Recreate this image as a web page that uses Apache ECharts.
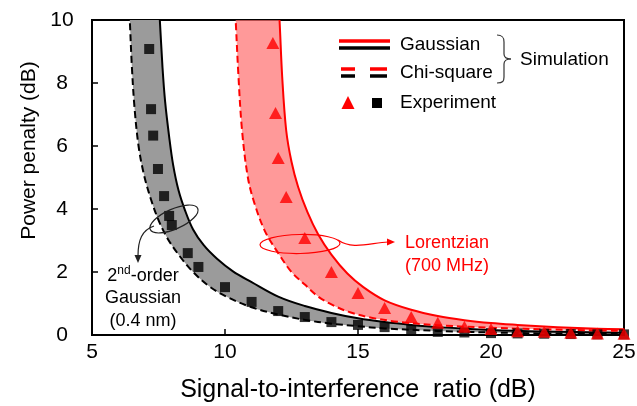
<!DOCTYPE html>
<html>
<head>
<meta charset="utf-8">
<script src="https://cdn.jsdelivr.net/npm/echarts@6/dist/echarts.min.js"></script>
<style>
  html, body { margin: 0; padding: 0; background: #fff; }
  #chart { width: 637px; height: 406px; }
</style>
</head>
<body>
<div id="chart"></div>
<script>
// Simulated power-penalty curves, [SIR (dB), penalty (dB)]
const gaussBlack = [[7.5,10.6],[7.55,10.0],[7.65,8.5],[7.75,7.4],[7.9,6.3],[8.05,5.4],[8.25,4.6],[8.5,3.95],[8.8,3.35],[9.2,2.85],[9.7,2.42],[10.3,2.02],[11.0,1.68],[12.0,1.22],[13.0,0.92],[14.0,0.7],[15.0,0.53],[16.0,0.41],[17.0,0.32],[18.0,0.25],[20.0,0.16],[22.0,0.11],[25.0,0.07]];
const chiBlack = [[6.38,10.6],[6.42,10.0],[6.5,8.5],[6.6,7.2],[6.75,6.0],[6.95,5.1],[7.2,4.35],[7.5,3.65],[7.85,3.05],[8.3,2.5],[8.8,2.0],[9.4,1.55],[10.1,1.2],[11.0,0.88],[12.0,0.65],[13.0,0.48],[14.0,0.36],[15.0,0.28],[16.0,0.21],[18.0,0.13],[20.0,0.08],[22.0,0.05],[25.0,0.03]];
const gaussRed = [[12.0,10.6],[12.05,10.0],[12.15,8.2],[12.3,6.5],[12.5,5.5],[12.75,4.7],[13.1,3.9],[13.5,3.2],[14.0,2.55],[14.6,1.95],[15.2,1.52],[16.0,1.1],[17.0,0.8],[18.0,0.6],[19.0,0.47],[20.0,0.38],[21.0,0.32],[22.0,0.27],[23.0,0.23],[24.0,0.2],[25.0,0.18]];
const chiRed = [[10.35,10.6],[10.4,10.0],[10.5,8.3],[10.64,6.5],[10.86,5.0],[11.1,4.2],[11.5,3.3],[12.0,2.6],[12.5,2.0],[13.0,1.6],[13.5,1.22],[14.0,0.97],[14.7,0.72],[15.5,0.55],[16.5,0.42],[18.0,0.31],[20.0,0.23],[22.0,0.18],[25.0,0.13]];

// Measured points
const lorentzSIR = [11.8, 11.9, 12.0, 12.3, 13.0, 14.0, 15.0, 16.0, 17.0, 18.0, 19.0, 20.0, 21.0, 22.0, 23.0, 24.0, 25.0];
const lorentzPP  = [9.27, 7.05, 5.62, 4.38, 3.08, 2.0, 1.33, 0.86, 0.57, 0.39, 0.26, 0.19, 0.12, 0.1, 0.07, 0.05, 0.04];
const gauss2SIR  = [7.15, 7.22, 7.3, 7.48, 7.71, 7.9, 8.0, 8.6, 9.0, 10.0, 11.0, 12.0, 13.0, 14.0, 15.0, 16.0, 17.0, 18.0, 19.0, 20.0, 21.0, 22.0, 23.0, 24.0, 25.0];
const gauss2PP   = [9.08, 7.17, 6.33, 5.27, 4.41, 3.78, 3.49, 2.6, 2.16, 1.52, 1.05, 0.76, 0.57, 0.41, 0.32, 0.25, 0.16, 0.1, 0.08, 0.06, 0.05, 0.04, 0.03, 0.02, 0.02];

const xTicks = [5, 10, 15, 20, 25];
const yTicks = [0, 2, 4, 6, 8, 10];

const FONT = 'Liberation Sans, Arial, sans-serif';
const SMOOTH = 0.35;

// Band between the Gaussian (solid) and chi-square (dashed) curves
function bandSeries(solid, dashed, fill, stroke, z) {
  return {
    type: 'custom',
    coordinateSystem: 'cartesian2d',
    clip: true,
    z: z,
    silent: true,
    data: [0],
    renderItem: function (params, api) {
      const s = solid.map(p => api.coord(p));
      const d = dashed.map(p => api.coord(p));
      return {
        type: 'group',
        children: [
          { type: 'polygon', shape: { points: s.concat(d.slice().reverse()), smooth: SMOOTH },
            style: { fill: fill, stroke: null } },
          { type: 'polyline', shape: { points: s, smooth: SMOOTH },
            style: { fill: null, stroke: stroke, lineWidth: 2 } },
          { type: 'polyline', shape: { points: d, smooth: SMOOTH },
            style: { fill: null, stroke: stroke, lineWidth: 2, lineDash: [7, 4] } }
        ]
      };
    }
  };
}

const chart = echarts.init(document.getElementById('chart'), null, { renderer: 'canvas' });

const txt = { fontFamily: FONT, fontSize: 19, fill: '#000' };

chart.setOption({
  animation: false,
  backgroundColor: '#fff',
  grid: {
    left: 92, right: 13, top: 20, bottom: 71,
    containLabel: false, outerBoundsMode: 'none',
    show: true, borderColor: '#000', borderWidth: 2, backgroundColor: 'transparent'
  },
  xAxis: {
    type: 'value', min: xTicks[0], max: xTicks[xTicks.length - 1], interval: 5,
    name: 'Signal-to-interference  ratio (dB)', nameLocation: 'middle', nameGap: 43,
    nameTextStyle: { fontFamily: FONT, fontSize: 25, color: '#000' },
    axisLine: { show: true, lineStyle: { color: '#000', width: 2 } },
    axisTick: { show: true, inside: true, length: 6, lineStyle: { color: '#000', width: 1.5 } },
    axisLabel: { fontFamily: FONT, fontSize: 21, color: '#000', margin: 7 },
    splitLine: { show: false }
  },
  yAxis: {
    type: 'value', min: yTicks[0], max: yTicks[yTicks.length - 1], interval: 2,
    name: 'Power penalty (dB)', nameLocation: 'middle', nameGap: 52,
    nameTextStyle: { fontFamily: FONT, fontSize: 21, color: '#000', padding: [0, 0, 0, 54] },
    axisLine: { show: true, lineStyle: { color: '#000', width: 2 } },
    axisTick: { show: true, inside: true, length: 6, lineStyle: { color: '#000', width: 1.5 } },
    axisLabel: { fontFamily: FONT, fontSize: 21, color: '#000', margin: 30, align: 'center',
                 padding: [6, 0, 0, 0] },
    splitLine: { show: false }
  },
  series: [
    bandSeries(gaussBlack, chiBlack, '#9b9b9b', '#000', 2),
    bandSeries(gaussRed, chiRed, 'rgba(255,110,110,0.7)', '#ff0000', 3),
    {
      type: 'scatter', z: 5, silent: true,
      symbol: 'rect', symbolSize: 10,
      itemStyle: { color: '#000' },
      data: gauss2SIR.map((x, i) => [x, gauss2PP[i]])
    },
    {
      type: 'scatter', z: 6, silent: true,
      symbol: 'triangle', symbolSize: [13, 12],
      itemStyle: { color: '#ff0000' },
      data: lorentzSIR.map((x, i) => [x, lorentzPP[i]])
    }
  ],
  graphic: [
    // legend: Gaussian
    { type: 'line', shape: { x1: 339, y1: 41, x2: 390, y2: 41 }, style: { stroke: '#ff0000', lineWidth: 3.5 } },
    { type: 'line', shape: { x1: 339, y1: 48, x2: 390, y2: 48 }, style: { stroke: '#000', lineWidth: 3.5 } },
    { type: 'text', x: 400, y: 45, style: Object.assign({ text: 'Gaussian', verticalAlign: 'middle' }, txt) },
    // legend: Chi-square
    { type: 'line', shape: { x1: 341, y1: 69, x2: 355, y2: 69 }, style: { stroke: '#ff0000', lineWidth: 3.5 } },
    { type: 'line', shape: { x1: 370, y1: 69, x2: 387, y2: 69 }, style: { stroke: '#ff0000', lineWidth: 3.5 } },
    { type: 'line', shape: { x1: 341, y1: 76, x2: 355, y2: 76 }, style: { stroke: '#000', lineWidth: 3.5 } },
    { type: 'line', shape: { x1: 370, y1: 76, x2: 387, y2: 76 }, style: { stroke: '#000', lineWidth: 3.5 } },
    { type: 'text', x: 400, y: 73, style: Object.assign({ text: 'Chi-square', verticalAlign: 'middle' }, txt) },
    // legend: Experiment
    { type: 'polygon', shape: { points: [[348, 96], [341.5, 109], [354.5, 109]] }, style: { fill: '#ff0000' } },
    { type: 'rect', shape: { x: 372, y: 98, width: 10, height: 10 }, style: { fill: '#000' } },
    { type: 'text', x: 400, y: 103, style: Object.assign({ text: 'Experiment', verticalAlign: 'middle' }, txt) },
    // brace grouping the two simulation entries
    { type: 'bezierCurve', shape: { x1: 497, y1: 35, cpx1: 503, cpy1: 35, cpx2: 504, cpy2: 38, x2: 504, y2: 42 },
      style: { stroke: '#333', lineWidth: 1.2, fill: null } },
    { type: 'line', shape: { x1: 504, y1: 42, x2: 504, y2: 54 }, style: { stroke: '#333', lineWidth: 1.2 } },
    { type: 'bezierCurve', shape: { x1: 504, y1: 54, cpx1: 504, cpy1: 58, cpx2: 507, cpy2: 59, x2: 511, y2: 59 },
      style: { stroke: '#333', lineWidth: 1.2, fill: null } },
    { type: 'bezierCurve', shape: { x1: 511, y1: 59, cpx1: 507, cpy1: 59, cpx2: 504, cpy2: 60, x2: 504, y2: 64 },
      style: { stroke: '#333', lineWidth: 1.2, fill: null } },
    { type: 'line', shape: { x1: 504, y1: 64, x2: 504, y2: 77 }, style: { stroke: '#333', lineWidth: 1.2 } },
    { type: 'bezierCurve', shape: { x1: 504, y1: 77, cpx1: 504, cpy1: 81, cpx2: 503, cpy2: 83, x2: 497, y2: 83 },
      style: { stroke: '#333', lineWidth: 1.2, fill: null } },
    { type: 'text', x: 520, y: 60, style: Object.assign({ text: 'Simulation', verticalAlign: 'middle' }, txt) },

    // annotation: 2nd-order Gaussian band
    { type: 'ellipse', x: 174, y: 219, rotation: 0.42, shape: { cx: 0, cy: 0, rx: 26, ry: 10 },
      style: { stroke: '#222', lineWidth: 1.2, fill: null }, z: 20 },
    { type: 'bezierCurve', shape: { x1: 154, y1: 226, cpx1: 142, cpy1: 230, cpx2: 138, cpy2: 240, x2: 138, y2: 256 },
      style: { stroke: '#222', lineWidth: 1.2, fill: null }, z: 20 },
    { type: 'polygon', shape: { points: [[134.5, 255], [141.5, 255], [138, 263]] }, style: { fill: '#222' }, z: 20 },
    { type: 'text', x: 143, y: 276, z: 20,
      style: { text: '{a|2}{b|nd}{a|-order}', align: 'center', verticalAlign: 'middle',
               rich: { a: { fontFamily: FONT, fontSize: 18, color: '#000', lineHeight: 22 },
                       b: { fontFamily: FONT, fontSize: 12, color: '#000', verticalAlign: 'top', lineHeight: 22 } } } },
    { type: 'text', x: 143, y: 298, z: 20,
      style: { text: 'Gaussian', align: 'center', verticalAlign: 'middle', fontFamily: FONT, fontSize: 18, fill: '#000' } },
    { type: 'text', x: 143, y: 321, z: 20,
      style: { text: '(0.4 nm)', align: 'center', verticalAlign: 'middle', fontFamily: FONT, fontSize: 18, fill: '#000' } },

    // annotation: Lorentzian band
    { type: 'ellipse', x: 300, y: 244, rotation: 0.02, shape: { cx: 0, cy: 0, rx: 40, ry: 9.5 },
      style: { stroke: '#ff0000', lineWidth: 1.2, fill: null }, z: 20 },
    { type: 'bezierCurve', shape: { x1: 338, y1: 240, cpx1: 352, cpy1: 250, cpx2: 370, cpy2: 243, x2: 388, y2: 242 },
      style: { stroke: '#ff0000', lineWidth: 1.2, fill: null }, z: 20 },
    { type: 'polygon', shape: { points: [[387, 238.5], [387, 245.5], [395, 242]] }, style: { fill: '#ff0000' }, z: 20 },
    { type: 'text', x: 405, y: 243, z: 20,
      style: { text: 'Lorentzian', verticalAlign: 'middle', fontFamily: FONT, fontSize: 18, fill: '#ff0000' } },
    { type: 'text', x: 405, y: 266, z: 20,
      style: { text: '(700 MHz)', verticalAlign: 'middle', fontFamily: FONT, fontSize: 18, fill: '#ff0000' } }
  ]
});
</script>
</body>
</html>
